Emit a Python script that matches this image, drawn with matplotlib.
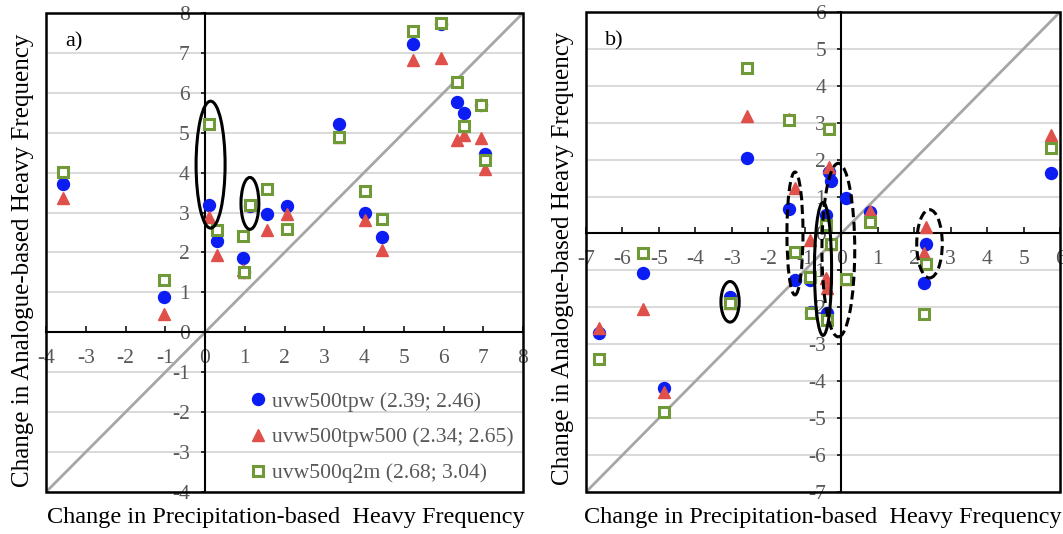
import matplotlib
matplotlib.use("Agg")
import matplotlib.pyplot as plt
from matplotlib.patches import Ellipse, Rectangle

plt.rcParams['font.family'] = ['Liberation Serif', 'DejaVu Serif']
plt.rcParams['axes.unicode_minus'] = False

# ---- data ----
labels = ["uvw500tpw (2.39; 2.46)", "uvw500tpw500 (2.34; 2.65)", "uvw500q2m (2.68; 3.04)"]

# panel a) precipitation-based change (x) and analogue-based change (y)
a_x = [-3.58, -1.03, 0.10, 0.30, 0.96, 0.99, 1.14, 1.55, 2.07, 3.37, 4.03, 4.45, 5.23, 5.93, 6.35, 6.52, 6.94, 7.05]
a_tpw = [3.71, 0.88, 3.18, 2.30, 1.86, 1.50, 3.16, 2.96, 3.16, 5.21, 2.98, 2.40, 7.22, 7.72, 5.76, 5.49, 5.69, 4.46]
a_tpw500 = [3.36, 0.47, 2.89, 1.93, 1.55, 1.51, 3.18, 2.56, 2.97, 4.89, 2.82, 2.06, 6.82, 6.87, 4.83, 4.94, 4.88, 4.08]
a_q2m = [4.01, 1.30, 5.21, 2.57, 2.42, 1.50, 3.20, 3.58, 2.60, 4.89, 3.54, 2.85, 7.55, 7.75, 6.28, 5.17, 5.69, 4.31]

# panel b)
b_x = [-6.65, -5.43, -4.86, -3.05, -2.58, -1.44, -1.28, -0.86, -0.82, -0.43, -0.40, -0.33, -0.27, 0.12, 0.80, 2.33, 2.28, 5.74]
b_tpw = [-2.70, -1.07, -4.19, -1.72, 2.04, 0.66, -1.26, -1.26, -2.13, 0.50, -2.16, 1.67, 1.42, 0.96, 0.58, -0.28, -1.34, 1.64]
b_tpw500 = [-2.56, -2.05, -4.30, -1.89, 3.19, 3.10, 1.23, -0.18, -2.13, -1.20, -1.48, 1.81, -0.28, -1.23, 0.61, 0.18, -0.53, 2.67]
b_q2m = [-3.40, -0.53, -4.84, -1.89, 4.49, 3.06, -0.50, -1.18, -2.16, 0.23, -2.34, 2.84, -0.28, -1.23, 0.31, -0.83, -2.18, 2.31]

# highlighted groups: (x, y, width, height, dashed)
a_rings = [(0.14, 4.20, 0.73, 3.18, False), (1.13, 3.23, 0.45, 1.30, False)]
b_rings = [(-3.05, -1.85, 0.50, 1.10, False), (-1.27, 0.00, 0.44, 3.33, True),
           (-0.50, -0.96, 0.47, 3.60, False), (-0.08, -0.45, 0.90, 4.70, True),
           (2.42, -0.28, 0.70, 1.85, True)]

blue = '#0B1DF2'
red = '#E0504A'
green = '#6F9A37'
grey = '#595959'


def draw_panel(ax, xs, s1, s2, s3, lim, rings, tag):
    lo, hi = lim
    ticks = list(range(lo, hi + 1))
    ax.set_xlim(lo, hi)
    ax.set_ylim(lo, hi)
    ax.set_xticks(ticks)
    ax.set_yticks(ticks)

    ax.grid(axis='y', color='#d9d9d9', lw=1.4)
    ax.set_axisbelow(True)

    ax.axline((0, 0), slope=1, color='#a6a6a6', lw=2, zorder=2)

    ax.plot(xs, s1, 'o', ms=8.6, color=blue, label=labels[0], zorder=4)
    ax.plot(xs, s2, '^', ms=8.5, color=red, label=labels[1], zorder=4)
    ax.plot(xs, s3, 's', ms=7.5, mfc='white', mec=green, mew=2.2, label=labels[2], zorder=4)

    for cx, cy, w, h, dashed in rings:
        ls = (0, (3, 1.5)) if dashed else '-'
        ax.add_patch(Ellipse((cx, cy), w, h, fill=False, ec='black', lw=2.2, ls=ls, zorder=5))

    # axes crossing at zero, box around the plot area
    ax.spines['left'].set_position(('data', 0))
    ax.spines['bottom'].set_position(('data', 0))
    ax.spines['top'].set_visible(False)
    ax.spines['right'].set_visible(False)
    for s in ['left', 'bottom']:
        ax.spines[s].set_linewidth(1.5)
    ax.add_patch(Rectangle((0, 0), 1, 1, transform=ax.transAxes, fill=False,
                           ec='black', lw=1.8, clip_on=False, zorder=6))

    ax.tick_params(axis='x', direction='in', length=4, width=1.1, pad=12,
                   labelsize=15.5, labelcolor=grey)
    ax.tick_params(axis='y', direction='out', length=3, width=1.1, pad=8,
                   labelsize=15.5, labelcolor=grey)

    ax.text(0.04, 0.94, tag, transform=ax.transAxes, fontsize=16, va='center')


fig = plt.figure(figsize=(10.63, 5.34), dpi=100)
ax1 = fig.add_axes([0.0433, 0.0787, 0.4487, 0.897])
ax2 = fig.add_axes([0.5513, 0.0787, 0.4459, 0.899])

draw_panel(ax1, a_x, a_tpw, a_tpw500, a_q2m, (-4, 8), a_rings, 'a)')
draw_panel(ax2, b_x, b_tpw, b_tpw500, b_q2m, (-7, 6), b_rings, 'b)')

ax1.legend(loc='upper left', bbox_to_anchor=(0.41, 0.228), frameon=False,
           fontsize=15.6, labelcolor=grey, handlelength=0.7, handletextpad=0.3,
           labelspacing=0.72, borderaxespad=0)

ylab = "Change in Analogue-based Heavy Frequency"
xlab = "Change in Precipitation-based  Heavy Frequency"
fig.text(23 / 1063, 1 - 260 / 534, ylab, rotation=90, ha='center', va='center', fontsize=18)
fig.text(563 / 1063, 1 - 258 / 534, ylab, rotation=90, ha='center', va='center', fontsize=18)
fig.text(286 / 1063, 0.030, xlab, ha='center', va='center', fontsize=17.5)
fig.text(823 / 1063, 0.030, xlab, ha='center', va='center', fontsize=17.5)

fig.savefig("out.png", dpi=100)
